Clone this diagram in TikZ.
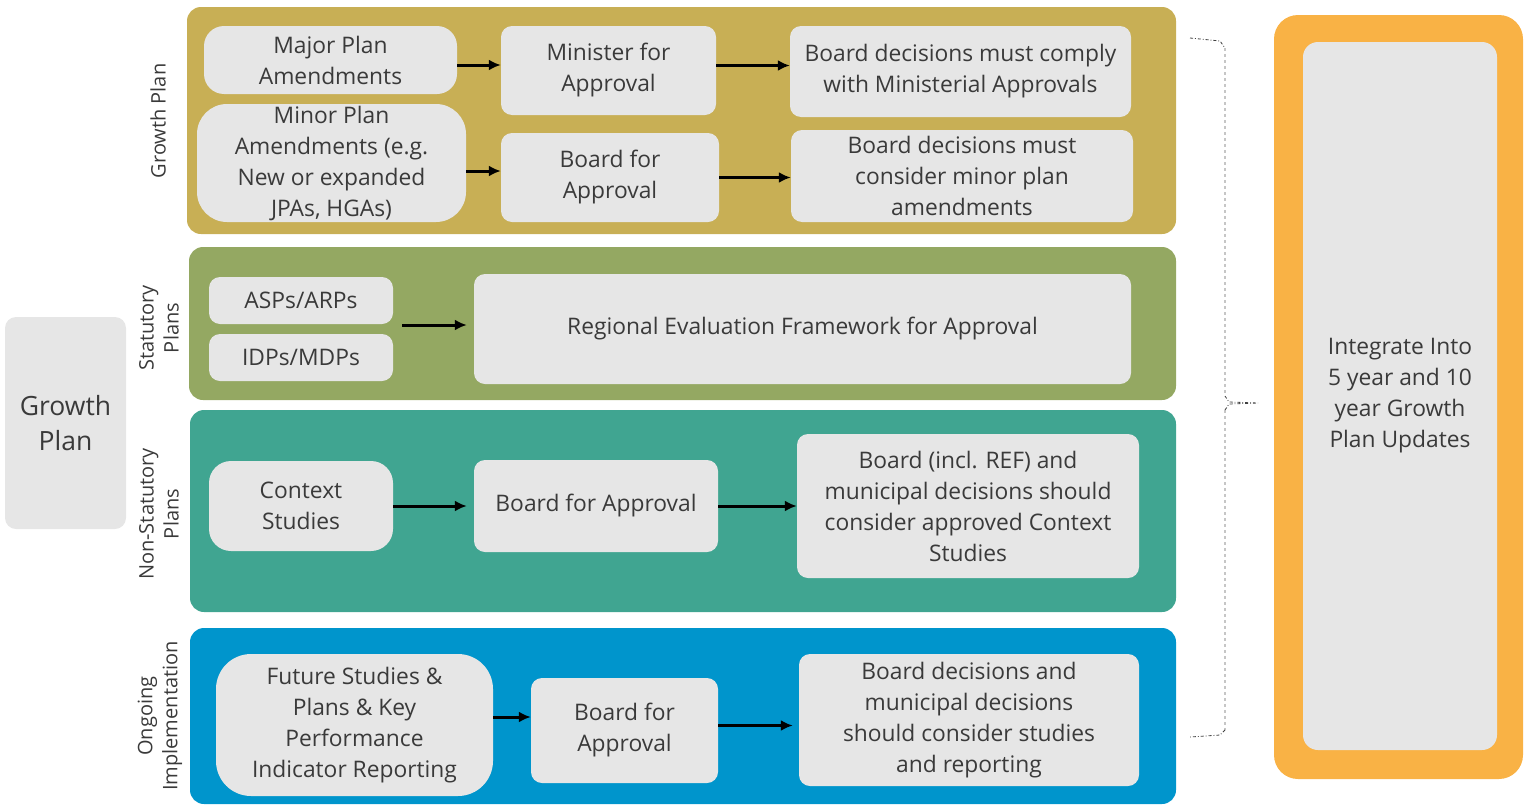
\documentclass[tikz,border=0pt]{standalone}
\usepackage{fontspec}
\setmainfont{Open Sans}
\usetikzlibrary{arrows.meta,calc}

\definecolor{gpgold}{HTML}{C8AF55}
\definecolor{gpolive}{HTML}{94A862}
\definecolor{gpteal}{HTML}{40A591}
\definecolor{gpblue}{HTML}{0095CC}
\definecolor{gporange}{HTML}{F9B245}
\definecolor{boxgray}{HTML}{E6E6E6}
\definecolor{txtgray}{HTML}{3A3A3A}

\tikzset{
  panel/.style={rounded corners=14pt, inner sep=0pt},
  box/.style={fill=boxgray, rounded corners=11pt, align=center, text=txtgray,
    inner sep=0pt, font=\fontsize{22.8}{31}\selectfont},
  flow/.style={line width=3pt, -{Latex[length=12pt,width=11pt]}},
  side/.style={rotate=90, align=center, text=txtgray, font=\fontsize{20}{25}\selectfont},
}

\begin{document}
\begin{tikzpicture}[x=1pt,y=-1pt]
        \useasboundingbox (0,0) rectangle (1531,806);
        % Panels
        \node[panel, fill=gpgold, minimum width=989pt, minimum height=227pt] (growth) at (681.5,120.5) {};
        \node[panel, fill=gpolive, minimum width=987pt, minimum height=153pt] (statutory) at (682.5,323.5) {};
        \node[panel, fill=gpteal, minimum width=986pt, minimum height=202pt] (nonstat) at (683,511) {};
        \node[panel, fill=gpblue, minimum width=986pt, minimum height=176pt] (ongoing) at (683,716) {};
        % Side labels
        \node[side] (lblgrowth) at (158,121) {Growth Plan};
        \node[side] (lblstat) at (159,328) {Statutory\\Plans};
        \node[side] (lblnonstat) at (159,514) {Non-Statutory\\Plans};
        \node[side] (lblongoing) at (160,716) {Ongoing\\Implementation};
        % Growth Plan (left)
        \node[box, minimum width=121pt, minimum height=212pt, font=\fontsize{26.5}{35}\selectfont] (gp) at (65.5,423) {Growth\\Plan};
        % Growth Plan panel
        \node[box, rounded corners=20pt, minimum width=253pt, minimum height=68pt] (major) at (330.5,60) {Major Plan\\Amendments};
        \node[box, rounded corners=30pt, minimum width=269pt, minimum height=118pt] (minor) at (331.5,163) {Minor Plan\\Amendments (e.g.\\New or expanded\\JPAs, HGAs)};
        \node[box, minimum width=215pt, minimum height=89pt] (minister) at (608.5,70.5) {Minister for\\Approval};
        \node[box, minimum width=218pt, minimum height=89pt] (board1) at (610,177.5) {Board for\\Approval};
        \node[box, minimum width=341pt, minimum height=91pt] (comply) at (960.5,71.5) {Board decisions must comply\\with Ministerial Approvals};
        \node[box, minimum width=342pt, minimum height=92pt] (consider) at (962,176) {Board decisions must\\consider minor plan\\amendments};
        \draw[flow] ([yshift=-5pt]major.east) -- ([yshift=-5pt]major.east -| minister.west);
        \draw[flow] ([yshift=-8pt]minor.east) -- ([yshift=-8pt]minor.east -| board1.west);
        \draw[flow] ([yshift=5pt]minister.east) -- ([yshift=5pt]minister.east -| comply.west);
        \draw[flow] (board1.east) -- (board1.east -| consider.west);
        % Statutory Plans
        \node[box, minimum width=184pt, minimum height=47pt] (asp) at (301,300.5) {ASPs/ARPs};
        \node[box, minimum width=184pt, minimum height=47pt] (idp) at (301,357.5) {IDPs/MDPs};
        \node[box, minimum width=657pt, minimum height=110pt] (ref) at (802.5,329) {Regional Evaluation Framework for Approval};
        \coordinate (split) at ($(asp.south)!0.5!(idp.north)$);
        \draw[flow, shorten <=9pt, shorten >=7pt] ([yshift=4pt]split -| asp.east) -- ([yshift=4pt]split -| ref.west);
        % Non-Statutory Plans
        \node[box, rounded corners=22pt, minimum width=184pt, minimum height=90pt] (context) at (301,506) {Context\\Studies};
        \node[box, minimum width=244pt, minimum height=92pt] (board3) at (596,506) {Board for Approval};
        \node[box, minimum width=342pt, minimum height=144pt] (incl) at (968,506) {Board (incl. REF) and\\municipal decisions should\\consider approved Context\\Studies};
        \draw[flow, shorten >=7pt] (context.east) -- (board3.west);
        \draw[flow] (board3.east) -- (board3.east -| incl.west);
        % Ongoing Implementation
        \node[box, rounded corners=35pt, minimum width=277pt, minimum height=142pt] (future) at (354.5,725) {Future Studies \&\\Plans \& Key\\Performance\\Indicator Reporting};
        \node[box, minimum width=187pt, minimum height=105pt] (board4) at (624.5,730.5) {Board for\\Approval};
        \node[box, minimum width=340pt, minimum height=132pt] (studies) at (969,720) {Board decisions and\\municipal decisions\\should consider studies\\and reporting};
        \draw[flow] ([yshift=8pt]future.east) -- ([yshift=8pt]future.east -| board4.west);
        \draw[flow, shorten >=6pt] ([yshift=5pt]board4.east) -- ([yshift=5pt]board4.east -| studies.west);
        % Brace
        \coordinate (bracetop) at (1190,38);
        \coordinate (bracetip) at (1258,403);
        \coordinate (bracebot) at (1190,737);
        \draw[gray!45, line width=2pt, dashed] (1225,48) -- (1225,396) (1225,410) -- (1225,730);
        \draw[darkgray, line width=0.8pt, dash dot] (bracetop) -- (1220,41) -- (1225,48)
          (1225,396) -- (1229,402) -- (bracetip)
          (1225,410) -- (1229,404) -- (bracetip)
          (1225,730) -- (1220,735) -- (bracebot);
        % Integrate
        \node[panel, rounded corners=24pt, fill=gporange, minimum width=249pt, minimum height=764pt] (integrate) at (1398.5,397) {};
        \node[box, rounded corners=15pt, minimum width=194pt, minimum height=708pt] (updates) at (1400,396) {Integrate Into\\5 year and 10\\year Growth\\Plan Updates};
\end{tikzpicture}
\end{document}
